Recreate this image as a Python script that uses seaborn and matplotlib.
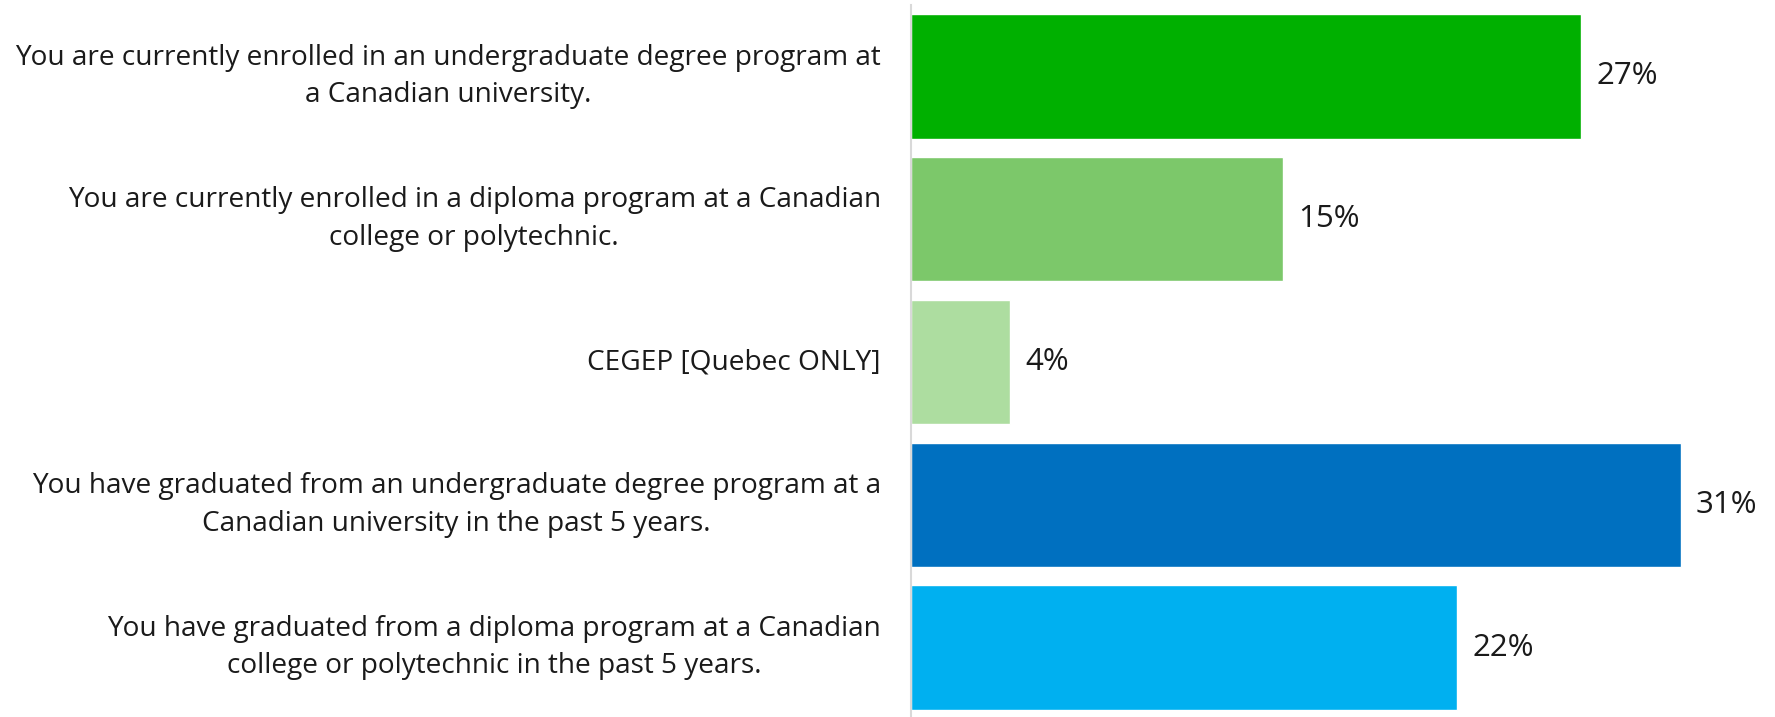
import numpy as np
import pandas as pd
import matplotlib.pyplot as plt
import seaborn as sns

# Chart data
categories = [
    "You are currently enrolled in an undergraduate degree program at\na Canadian university.",
    "You are currently enrolled in a diploma program at a Canadian\ncollege or polytechnic.",
    "CEGEP [Quebec ONLY]",
    "You have graduated from an undergraduate degree program at a\nCanadian university in the past 5 years.",
    "You have graduated from a diploma program at a Canadian\ncollege or polytechnic in the past 5 years.",
]
values = [27, 15, 4, 31, 22]
colors = ["#00B000", "#7CC86A", "#ADDDA0", "#0070C0", "#00B0F0"]

df = pd.DataFrame({"category": categories, "value": values})

sns.set_style("white")
plt.rcParams["font.family"] = ["Open Sans", "DejaVu Sans"]

fig = plt.figure(figsize=(17.75, 7.17), dpi=100)
ax = fig.add_axes([911 / 1775, -2 / 717, 1 - 911 / 1775, 714 / 717])

sns.barplot(data=df, x="value", y="category", hue="category",
            palette=colors, saturation=1, orient="h", width=0.87,
            legend=False, ax=ax)

for c in ax.containers:
    ax.bar_label(c, labels=[f"{v:.0f}%" for v in c.datavalues], padding=11,
                 fontsize=22.5, color="#1a1a1a")

ax.set_xlim(0, 34.8)
ax.set_ylim(len(categories) - 0.5, -0.5)
ax.set_xlabel("")
ax.set_ylabel("")
ax.set_xticks([])

# category labels: right aligned, centred lines
ax.set_yticks(range(len(categories)))
ax.set_yticklabels([])
for i, lab in enumerate(categories):
    ax.text(-0.035, i, lab, transform=ax.get_yaxis_transform(),
            ha="right", va="center", multialignment="center",
            fontsize=20.2, color="#1a1a1a", linespacing=1.45)
ax.tick_params(axis="y", which="major", length=0)
ax.set_yticks(np.arange(-0.5, len(categories), 1), minor=True)
ax.tick_params(axis="y", which="minor", length=7, width=1.5, color="#D9D9D9")

for s in ["top", "right", "bottom"]:
    ax.spines[s].set_visible(False)
ax.spines["left"].set_color("#D9D9D9")
ax.spines["left"].set_linewidth(1.5)

fig.savefig("out.png", dpi=100)
